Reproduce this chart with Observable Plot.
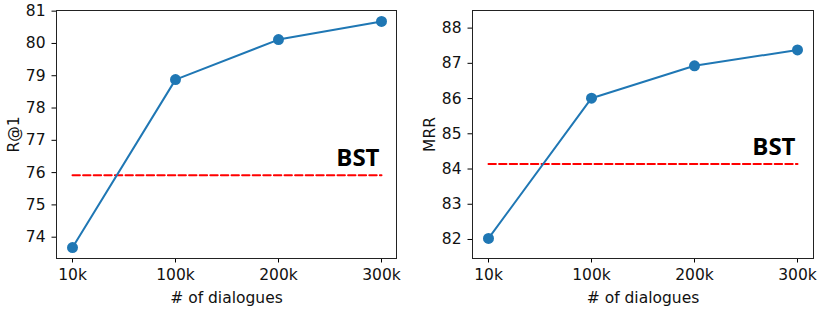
<!DOCTYPE html>
<html>
<head>
<meta charset="utf-8">
<script src="https://cdn.jsdelivr.net/npm/d3@7"></script>
<script src="https://cdn.jsdelivr.net/npm/@observablehq/plot@0.6"></script>
<style>
  html, body { margin: 0; padding: 0; background: #fff; }
  #wrap { position: relative; width: 831px; height: 312px; overflow: hidden; }
  .panel { position: absolute; top: 0; }
</style>
</head>
<body>
<div id="wrap">
  <div class="panel" id="left" style="left:0px"></div>
  <div class="panel" id="right" style="left:415px"></div>
</div>
<script>
const categories = ["10k", "100k", "200k", "300k"];
const r1Values = [73.68, 78.88, 80.12, 80.68];
const mrrValues = [82.03, 86.01, 86.93, 87.38];
const bstR1 = 75.92;
const bstMRR = 84.14;
const r1Ticks = [74, 75, 76, 77, 78, 79, 80, 81];
const mrrTicks = [82, 83, 84, 85, 86, 87, 88];

function panel({values, bst, ticks, domain, label, width, marginLeft, marginRight}) {
  const data = categories.map((c, i) => ({x: c, y: values[i]}));
  const bstLine = [{x: categories[0], y: bst}, {x: categories[categories.length - 1], y: bst}];
  return Plot.plot({
    width, height: 312,
    marginLeft, marginRight, marginTop: 10, marginBottom: 54,
    style: {fontFamily: "DejaVu Sans", fontSize: "15.5px", color: "#000", background: "transparent"},
    x: {type: "point", domain: categories, padding: 0.15},
    y: {domain},
    marks: [
      Plot.axisX({label: "# of dialogues", labelAnchor: "center", labelArrow: "none", labelOffset: 44,
        tickSize: 4.5, tickPadding: 6, fontSize: 15.5, fill: "#111"}),
      Plot.axisY({ticks, tickFormat: d3.format("d"), label, labelAnchor: "center", labelArrow: "none",
        labelOffset: 49, tickSize: 4.5, tickPadding: 6.5, fontSize: 15.5, fill: "#111"}),
      Plot.frame({stroke: "#222", strokeWidth: 1}),
      Plot.line(bstLine, {x: "x", y: "y", stroke: "red", strokeWidth: 2, strokeDasharray: "7.4,3.2"}),
      Plot.line(data, {x: "x", y: "y", stroke: "#1f77b4", strokeWidth: 2}),
      Plot.dot(data, {x: "x", y: "y", r: 5.5, fill: "#1f77b4", stroke: "none"}),
      Plot.text([bstLine[1]], {x: "x", y: "y", text: () => "BST", textAnchor: "end", lineAnchor: "bottom",
        dx: -2, dy: -9, fontSize: 24, fontWeight: "bold", fontFamily: "Open Sans", fill: "#000"})
    ]
  });
}

document.getElementById("left").append(panel({
  values: r1Values, bst: bstR1, ticks: r1Ticks, domain: [73.34, 81.02], label: "R@1",
  width: 415, marginLeft: 56, marginRight: 19
}));
document.getElementById("right").append(panel({
  values: mrrValues, bst: bstMRR, ticks: mrrTicks, domain: [81.46, 88.5], label: "MRR",
  width: 416, marginLeft: 57, marginRight: 18
}));
</script>
</body>
</html>
